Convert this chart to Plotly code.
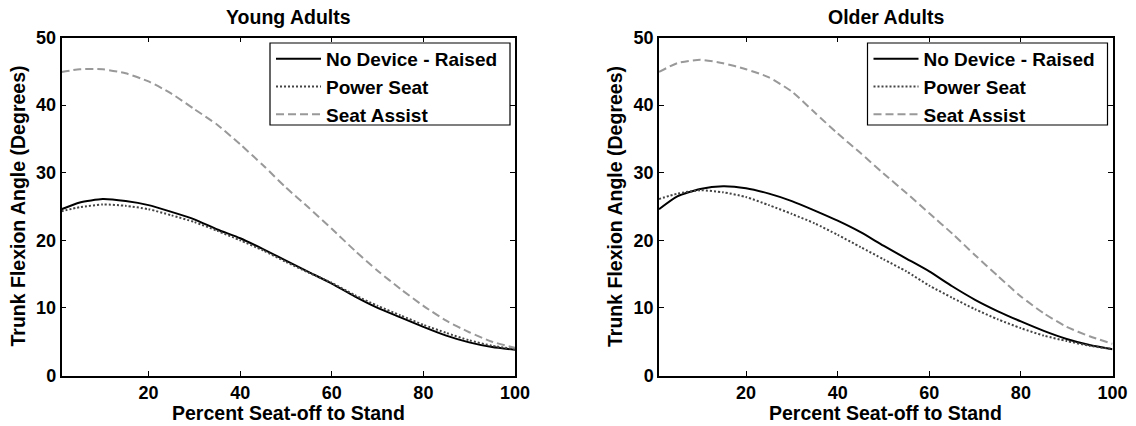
import plotly.graph_objects as go

# ---- data ----
pct = [1, 5, 10, 15, 20, 25, 30, 35, 40, 45, 50, 55, 60, 65, 70, 75, 80, 85, 90, 95, 100]

young_no_device = [24.6, 25.6, 26.1, 25.8, 25.2, 24.2, 23.1, 21.6, 20.3, 18.7, 17.0, 15.3, 13.6, 11.7, 10.0, 8.6, 7.2, 5.9, 4.9, 4.2, 3.8]
young_power_seat = [24.3, 24.9, 25.3, 25.1, 24.6, 23.7, 22.7, 21.4, 20.0, 18.5, 16.8, 15.2, 13.7, 11.9, 10.3, 8.9, 7.5, 6.3, 5.2, 4.4, 3.9]
young_seat_assist = [44.9, 45.3, 45.3, 44.7, 43.5, 41.7, 39.4, 37.1, 34.2, 31.1, 27.8, 24.8, 21.7, 18.5, 15.5, 12.8, 10.3, 8.1, 6.4, 5.0, 4.1]

older_no_device = [24.6, 26.5, 27.6, 28.0, 27.7, 26.9, 25.8, 24.4, 22.9, 21.2, 19.2, 17.3, 15.4, 13.2, 11.2, 9.5, 8.0, 6.6, 5.4, 4.5, 3.9]
older_power_seat = [26.1, 26.9, 27.4, 27.1, 26.4, 25.2, 23.9, 22.5, 20.8, 19.0, 17.2, 15.4, 13.3, 11.5, 9.8, 8.3, 7.0, 5.9, 5.1, 4.4, 3.9]
older_seat_assist = [44.9, 46.2, 46.7, 46.2, 45.3, 44.1, 42.0, 38.9, 35.8, 32.9, 29.9, 27.0, 24.0, 21.0, 17.8, 14.7, 11.7, 9.2, 7.2, 5.8, 4.7]

series_names = ["No Device - Raised", "Power Seat", "Seat Assist"]
panel_titles = ["Young Adults", "Older Adults"]
x_title = "Percent Seat-off to Stand"
y_title = "Trunk Flexion Angle (Degrees)"
x_ticks = [20, 40, 60, 80, 100]
y_ticks = [0, 10, 20, 30, 40, 50]

# ---- layout constants ----
W, H = 1136, 426
FONT = "Liberation Sans, Arial, sans-serif"
panels = [
    dict(x0=61.5, x1=515.0, data=[young_no_device, young_power_seat, young_seat_assist]),
    dict(x0=659.0, x1=1112.5, data=[older_no_device, older_power_seat, older_seat_assist]),
]
top_px, bot_px = 37.5, 375.5
styles = [
    dict(color="#000000", width=2, dash="solid"),
    dict(color="#444444", width=2, dash="2px,2px"),
    dict(color="#999999", width=2, dash="8px,4px"),
]

fig = go.Figure()
layout = dict(
    width=W, height=H,
    margin=dict(l=0, r=0, t=0, b=0, autoexpand=False),
    paper_bgcolor="white", plot_bgcolor="white",
    font=dict(family=FONT, size=18, color="black"),
    annotations=[], shapes=[],
)

for i, p in enumerate(panels):
    xa = "x" if i == 0 else "x2"
    ya = "y" if i == 0 else "y2"
    leg = "legend" if i == 0 else "legend2"
    for name, ys, st in zip(series_names, p["data"], styles):
        fig.add_trace(go.Scatter(
            x=pct, y=ys, name=name, mode="lines",
            line=dict(color=st["color"], width=st["width"], dash=st["dash"], shape="spline", smoothing=0.6),
            xaxis=xa, yaxis=ya, legend=leg,
        ))
    dom_x = [p["x0"] / W, p["x1"] / W]
    dom_y = [1 - bot_px / H, 1 - top_px / H]
    axkey = "xaxis" if i == 0 else "xaxis2"
    aykey = "yaxis" if i == 0 else "yaxis2"
    layout[axkey] = dict(
        domain=dom_x, range=[1, 100], anchor=ya,
        tickmode="array", tickvals=x_ticks, ticks="inside", ticklen=5, tickwidth=1,
        tickcolor="black", showline=True, linecolor="black", linewidth=1.5, mirror="ticks",
        showgrid=False, zeroline=False,
        tickfont=dict(family=FONT, size=18, color="black", weight="bold"),
    )
    layout[aykey] = dict(
        domain=dom_y, range=[0, 50], anchor=xa,
        tickmode="array", tickvals=y_ticks, ticks="inside", ticklen=5, tickwidth=1,
        tickcolor="black", showline=True, linecolor="black", linewidth=1.5, mirror="ticks",
        showgrid=False, zeroline=False,
        tickfont=dict(family=FONT, size=18, color="black", weight="bold"),
    )
    # legend box drawn as a shape, legend itself borderless
    bx0, bx1, by0, by1 = p["x1"] - 245, p["x1"] - 5, 43, 125
    layout["shapes"].append(dict(
        type="rect", xref="paper", yref="paper", layer="above",
        x0=bx0 / W, x1=bx1 / W, y0=1 - by1 / H, y1=1 - by0 / H,
        fillcolor="white", line=dict(color="black", width=1.2),
    ))
    layout[leg] = dict(
        x=(bx0 + 1) / W, y=1 - (by0 - 3) / H, xanchor="left", yanchor="top",
        bgcolor="rgba(0,0,0,0)", borderwidth=0,
        font=dict(family=FONT, size=19, color="black", weight="bold"),
        itemwidth=45, tracegroupgap=0,
    )
    cx = (p["x0"] + p["x1"]) / 2
    layout["annotations"] += [
        dict(text="<b>%s</b>" % panel_titles[i], x=cx / W, y=1 - 17.5 / H, xref="paper", yref="paper",
             xanchor="center", yanchor="middle", showarrow=False,
             font=dict(family=FONT, size=19.5, color="black")),
        dict(text="<b>%s</b>" % x_title, x=cx / W, y=1 - 413 / H, xref="paper", yref="paper",
             xanchor="center", yanchor="middle", showarrow=False,
             font=dict(family=FONT, size=19.5, color="black")),
        dict(text="<b>%s</b>" % y_title, x=(p["x0"] - 44.5) / W, y=1 - ((top_px + bot_px) / 2) / H,
             xref="paper", yref="paper", xanchor="center", yanchor="middle", textangle=-90,
             showarrow=False, font=dict(family=FONT, size=19.5, color="black")),
    ]

fig.update_layout(**layout)
fig.write_html("out.html")
